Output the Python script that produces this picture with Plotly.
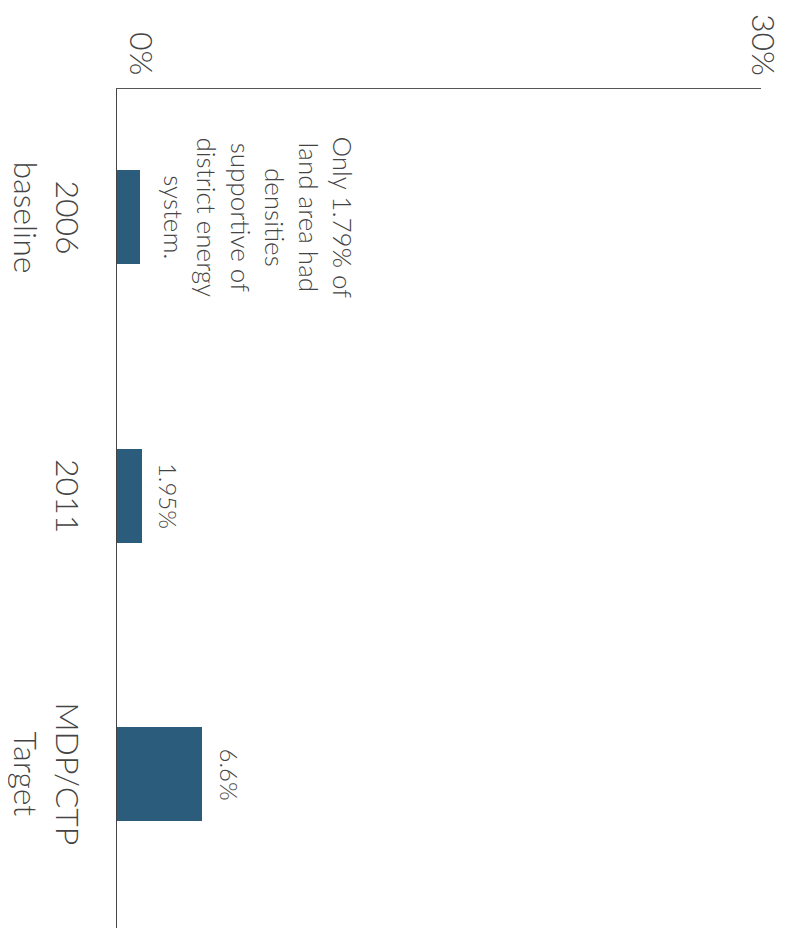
import plotly.graph_objects as go

categories = ["2006<br>baseline", "2011", "MDP/CTP<br>Target"]
values = [1.79, 1.95, 6.6]
bar_labels = [
    "Only 1.79% of<br>land area had<br>densities<br>supportive of<br>district energy<br>system.",
    "1.95%",
    "6.6%",
]
tick_vals = [0, 50]
tick_text = ["0%", "30%"]

BAR_COLOR = "#2b5c7b"
TEXT_COLOR = "#444444"
FONT = "Lato, 'Open Sans', sans-serif"

fig = go.Figure()
fig.add_trace(go.Bar(
    x=values,
    y=categories,
    orientation="h",
    marker=dict(color=BAR_COLOR, line=dict(width=0)),
    width=0.3375,
    hoverinfo="skip",
))

annotations = []
# x tick labels (rotated)
for v, t, sh in zip(tick_vals, tick_text, [26, 4]):
    annotations.append(dict(
        x=v, xref="x", y=1, yref="paper", text=t, showarrow=False,
        textangle=90, xanchor="center", yanchor="bottom", xshift=sh, yshift=11,
        font=dict(family=FONT, size=32, color=TEXT_COLOR, weight=300),
    ))
# category labels (rotated)
for i, c in enumerate(categories):
    annotations.append(dict(
        x=0, xref="paper", y=i, yref="y", text=c, showarrow=False,
        textangle=90, xanchor="right", yanchor="middle", xshift=-27,
        align="center",
        font=dict(family=FONT, size=32, color=TEXT_COLOR, weight=300),
    ))
# bar value labels (rotated)
label_sizes = [26, 24, 24]
for i, (v, lab, sh, fs) in enumerate(zip(values, bar_labels, [16, 10, 11], label_sizes)):
    annotations.append(dict(
        x=v, xref="x", y=i, yref="y", text=lab, showarrow=False,
        textangle=90, xanchor="left", yanchor="middle", xshift=sh,
        align="center",
        font=dict(family=FONT, size=fs, color=TEXT_COLOR, weight=300),
    ))

fig.update_layout(
    width=791, height=931,
    margin=dict(l=109, r=38, t=81, b=11, pad=0),
    paper_bgcolor="white", plot_bgcolor="white",
    showlegend=False,
    bargap=0,
    annotations=annotations,
    xaxis=dict(
        range=[0, 50], side="top", showline=True, linecolor="#555555", linewidth=1,
        showgrid=False, zeroline=False, showticklabels=False, ticks="",
        tickvals=tick_vals, fixedrange=True,
    ),
    yaxis=dict(
        type="category", categoryorder="array", categoryarray=categories,
        range=[2.553, -0.46], showline=True, linecolor="#444444", linewidth=1,
        showgrid=False, zeroline=False, showticklabels=False, ticks="",
        fixedrange=True,
    ),
)

fig.write_html("out.html")
